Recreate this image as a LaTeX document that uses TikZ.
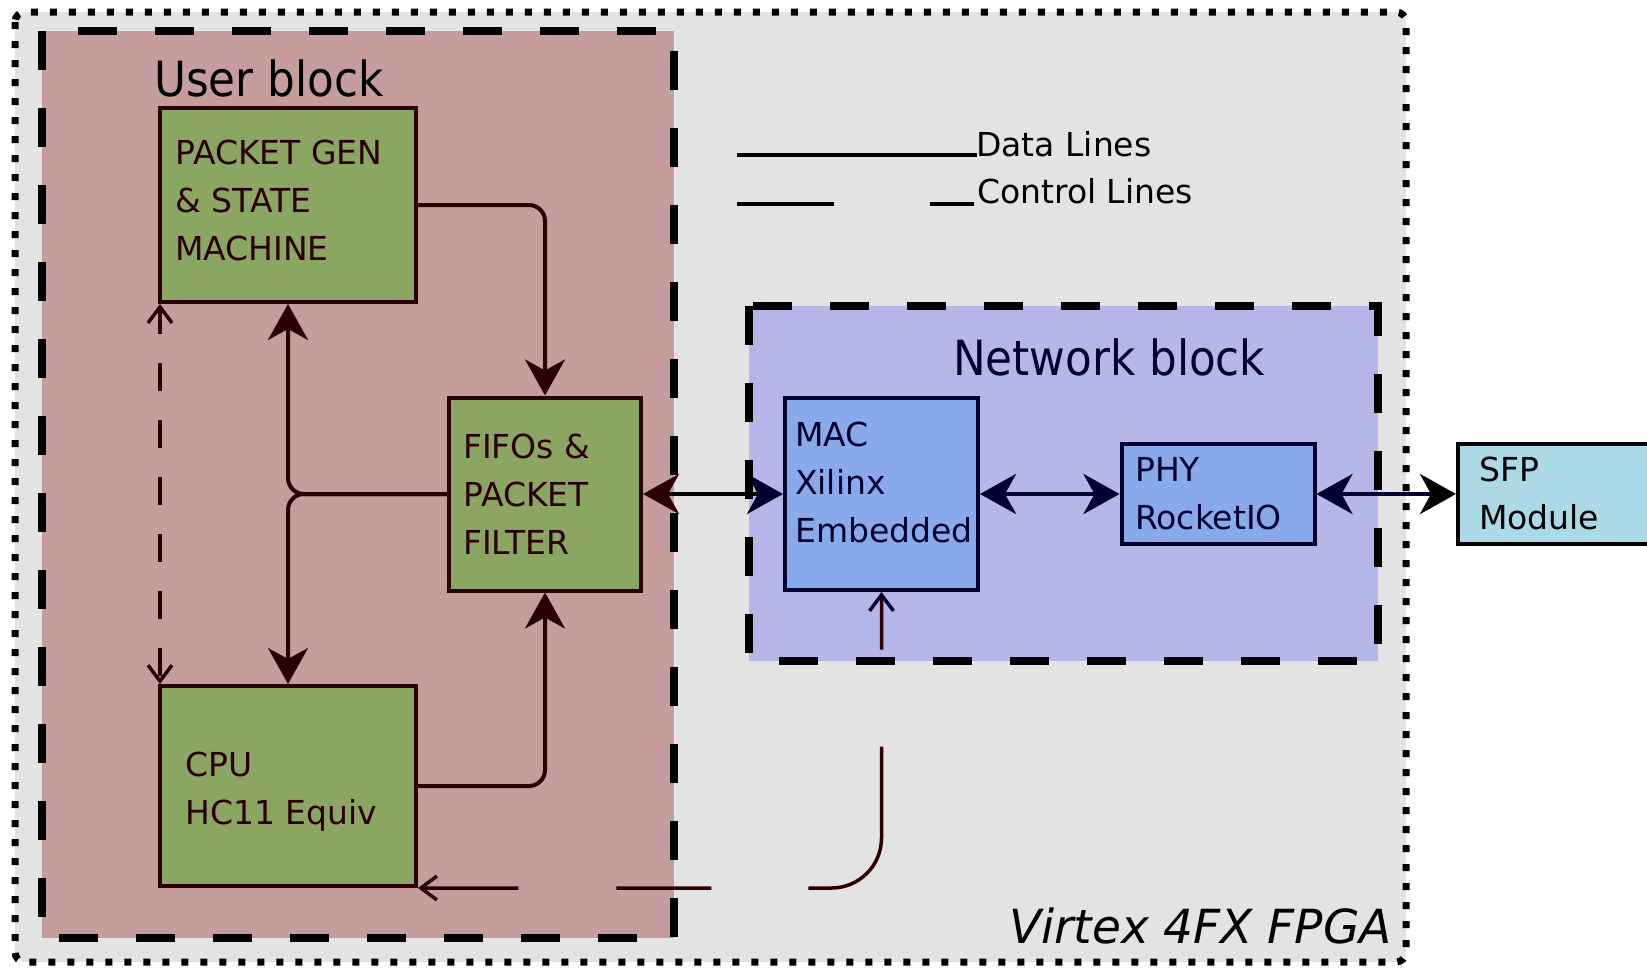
\documentclass[tikz,border=0pt]{standalone}
\usepackage{fontspec}
\setmainfont{DejaVu Sans}
\newfontfamily\condfont[FakeStretch=0.9]{DejaVu Sans}
\usetikzlibrary{arrows.meta,calc}
\definecolor{bggrey}{HTML}{E3E3E3}
\definecolor{rosy}{HTML}{C59D9D}
\definecolor{ugreen}{HTML}{8BA663}
\definecolor{lav}{HTML}{B6B6E8}
\definecolor{macblue}{HTML}{88AAEA}
\definecolor{sfpblue}{HTML}{ACD9E6}
\definecolor{ubrown}{HTML}{2B0000}
\definecolor{navy}{HTML}{000030}
\newcommand\bxfont{\fontsize{33}{48}\selectfont}
\tikzset{
  bigB/.tip={Stealth[length=36pt,width=40pt,inset=11pt,color=ubrown]},
  bigN/.tip={Stealth[length=36pt,width=40pt,inset=11pt,color=navy]},
  bigK/.tip={Stealth[length=36pt,width=40pt,inset=11pt,color=black]},
  smallB/.tip={Straight Barb[length=16pt,width=24pt,color=ubrown]},
  smallN/.tip={Straight Barb[length=16pt,width=24pt,color=navy]},
  ubox/.style={draw=ubrown, fill=ugreen, line width=4pt, inner sep=0pt},
  nbox/.style={draw=navy, fill=macblue, line width=4pt, inner sep=0pt},
  sbox/.style={draw=black, fill=sfpblue, line width=4pt, inner sep=0pt},
  btext/.style={anchor=north west, inner sep=0pt, align=left, font=\bxfont},
  dline/.style={draw=ubrown, line width=4pt, rounded corners=16pt},
  cline/.style={draw=ubrown, line width=3.5pt},
  blockborder/.style={draw=black, line width=7.5pt, dash pattern=on 39pt off 38pt},
  title/.style={inner sep=0pt, font=\condfont\fontsize{48.5}{56}\selectfont},
}
\begin{document}
\begin{tikzpicture}[x=1pt,y=-1pt]
\clip (0,0) rectangle (1647,972);
\fill[white] (0,0) rectangle (1647,972);
% backgrounds
\fill[bggrey, rounded corners=10pt] (15,12) rectangle (1406,962);
\fill[rosy] (42,31) rectangle (674,938);
\fill[lav] (749,306) rectangle (1378,661);

% titles
\node[title, anchor=base west] (ut) at (154,96) {User block};
\node[title, anchor=base west, text=navy] (nt) at (953,375) {Network block};
\node[inner sep=0pt, anchor=base east, font=\itshape\fontsize{47}{56}\selectfont] (vt) at (1392,943) {Virtex 4FX FPGA};

% legend
\node[inner sep=0pt, anchor=base west, font=\bxfont] (dl) at (976,156) {Data Lines};
\node[inner sep=0pt, anchor=base west, font=\bxfont] (cl) at (977,203) {Control Lines};
\draw[line width=4.5pt] (737,155) -- (977,155);
\draw[line width=4.5pt, dash pattern=on 97pt off 96pt on 100pt] (737,204) -- (974,204);

% boxes
\node[ubox, minimum width=256pt, minimum height=194pt] (pg) at (288,205) {};
\node[ubox, minimum width=192pt, minimum height=193pt] (fifo) at (545,494) {};
\node[ubox, minimum width=256pt, minimum height=200pt] (cpu) at (288,786) {};
\node[nbox, minimum width=193pt, minimum height=192pt] (mac) at (881.5,494) {};
\node[nbox, minimum width=193pt, minimum height=100pt] (phy) at (1218,494) {};
\node[sbox, minimum width=260pt, minimum height=100pt] (sfp) at (1588,494) {};

% box texts
\node[btext, text=ubrown] (pgt) at (175,140) {PACKET GEN\\\& STATE\\MACHINE};
\node[btext, text=ubrown] (fifot) at (463,434) {FIFOs \&\\PACKET\\FILTER};
\node[btext, text=ubrown] (cput) at (185,752) {CPU\\HC11 Equiv};
\node[btext, text=navy] (mact) at (795,422) {MAC\\Xilinx\\Embedded};
\node[btext, text=navy] (phyt) at (1135,457) {PHY\\RocketIO};
\node[btext, text=black] (sfpt) at (1479,457) {SFP\\Module};

% user block connectors
\draw[dline, -{bigB}] (pg.east) -| (fifo.north);
\draw[dline, -{bigB}] (fifo.west) -| (pg.south);
\draw[dline, -{bigB}] (fifo.west) -| (cpu.north);
\draw[dline, -{bigB}] (cpu.east) -| (fifo.south);
\draw[cline, dash pattern=on 28pt off 29pt, dash phase=3pt, {smallB}-{smallB}]
  ($(pg.south west)+(2,0)$) -- ($(cpu.north west)+(2,0)$);

% data lines
\draw[line width=4.5pt, black, {bigB}-{bigN}] (fifo.east) -- (mac.west);
\draw[line width=4.5pt, navy, {bigN}-{bigN}] (mac.east) -- (phy.west);
\draw[line width=4.5pt, navy, {bigN}-{bigK}] (phy.east) -- (sfp.west);

% control line
\draw[cline, rounded corners=50pt,
      dash pattern=on 53pt off 97pt on 193pt off 97pt on 95pt off 98pt on 300pt,
      {smallN}-{smallB}]
  (mac.south) -- (mac.south |- cpu.south east) -- (cpu.south east);

% borders
\draw[blockborder] (42,31) rectangle (674,938);
\draw[blockborder] (749,306) rectangle (1378,661);
\draw[line width=7pt, dash pattern=on 7pt off 12pt, rounded corners=10pt] (15,12) rectangle (1406,962);
\end{tikzpicture}
\end{document}
